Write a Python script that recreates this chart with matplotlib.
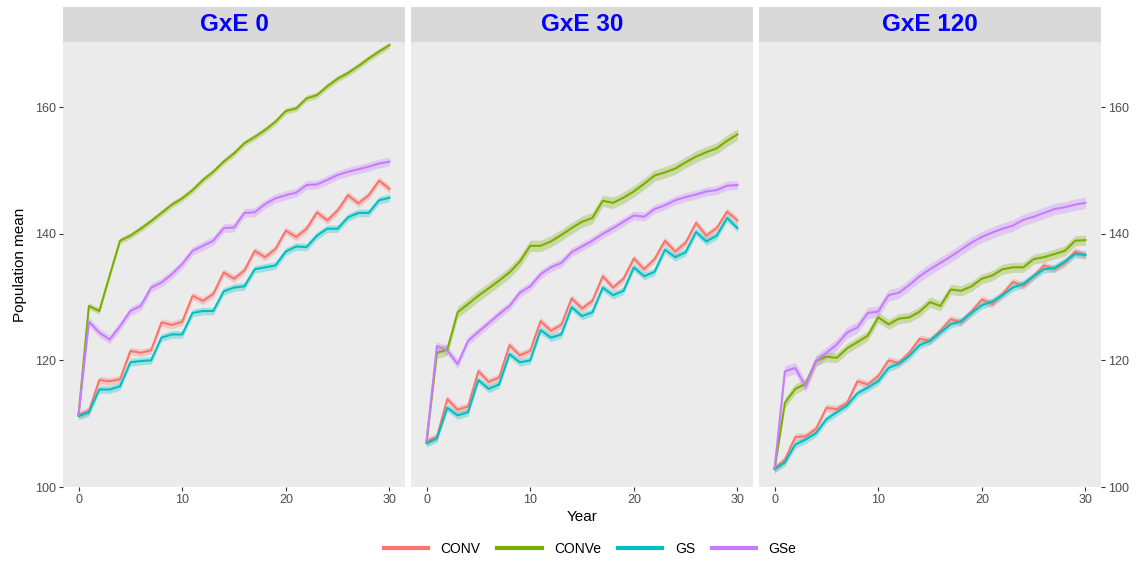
import matplotlib
matplotlib.use("Agg")
import matplotlib.pyplot as plt
import numpy as np
from matplotlib.lines import Line2D

plt.rcParams['font.family'] = ['Liberation Sans', 'DejaVu Sans']

years = list(range(31))
panels = ["GxE 0", "GxE 30", "GxE 120"]
series = ["CONV", "CONVe", "GS", "GSe"]
colors = {"CONV": "#F8766D", "CONVe": "#7CAE00", "GS": "#00BFC4", "GSe": "#C77CFF"}

# ---- GxE 0 ----
conv_0 = [111.4, 112.0, 116.9, 116.7, 117.0, 121.5, 121.2, 121.6, 126.0, 125.6, 126.1,
          130.2, 129.4, 130.5, 133.9, 132.9, 134.2, 137.3, 136.3, 137.6, 140.5,
          139.5, 140.8, 143.4, 142.1, 143.7, 146.1, 144.8, 146.1, 148.4, 147.1]
conve_0 = [111.4, 128.6, 127.8, 133.4, 138.9, 139.7, 140.8, 142.0, 143.3, 144.6, 145.6,
           146.9, 148.5, 149.8, 151.4, 152.7, 154.3, 155.3, 156.4, 157.7, 159.4,
           159.8, 161.4, 161.9, 163.3, 164.5, 165.4, 166.5, 167.7, 168.8, 169.8]
gs_0 = [111.2, 111.8, 115.4, 115.4, 115.9, 119.7, 119.9, 120.0, 123.6, 124.1, 124.1,
        127.5, 127.8, 127.8, 130.9, 131.5, 131.7, 134.4, 134.7, 135.0, 137.2,
        138.0, 137.9, 139.7, 140.8, 140.8, 142.6, 143.3, 143.3, 145.3, 145.7]
gse_0 = [111.4, 126.1, 124.4, 123.3, 125.4, 127.8, 128.6, 131.5, 132.3, 133.6, 135.2,
         137.3, 138.1, 138.9, 140.9, 141.0, 143.3, 143.4, 144.7, 145.6, 146.1,
         146.5, 147.7, 147.8, 148.5, 149.3, 149.8, 150.2, 150.6, 151.1, 151.4]

# ---- GxE 30 ----
conv_30 = [107.2, 107.9, 113.9, 112.2, 112.7, 118.3, 116.6, 117.3, 122.4, 120.8, 121.5,
           126.2, 124.7, 125.6, 129.8, 128.2, 129.4, 133.3, 131.5, 132.9, 136.1,
           134.4, 136.0, 138.9, 137.2, 138.6, 141.7, 139.7, 140.9, 143.5, 142.1]
conve_30 = [107.2, 121.2, 121.7, 127.6, 128.9, 130.2, 131.4, 132.6, 133.9, 135.6, 138.1,
            138.1, 138.8, 139.8, 140.9, 141.9, 142.5, 145.2, 144.9, 145.7, 146.7,
            147.9, 149.2, 149.7, 150.3, 151.3, 152.2, 152.9, 153.5, 154.7, 155.7]
gs_30 = [106.9, 107.7, 112.5, 111.3, 111.8, 116.9, 115.5, 116.2, 121.0, 119.7, 120.0,
         124.8, 123.6, 124.1, 128.4, 127.0, 127.6, 131.5, 130.3, 131.0, 134.7,
         133.3, 134.0, 137.5, 136.3, 137.1, 140.3, 138.8, 139.7, 142.5, 140.9]
gse_30 = [107.2, 122.3, 121.6, 119.4, 123.1, 124.5, 125.9, 127.3, 128.6, 130.7, 131.7,
          133.6, 134.7, 135.4, 137.1, 138.0, 138.9, 140.0, 140.9, 141.9, 142.9,
          142.7, 143.9, 144.5, 145.3, 145.8, 146.2, 146.7, 146.9, 147.6, 147.7]

# ---- GxE 120 ----
conv_120 = [102.9, 104.3, 107.9, 108.0, 109.2, 112.5, 112.3, 113.3, 116.7, 116.2, 117.5,
            120.0, 119.6, 121.2, 123.4, 123.1, 124.7, 126.5, 126.0, 127.7, 129.6,
            128.9, 130.5, 132.4, 131.8, 133.3, 135.0, 134.4, 135.4, 137.2, 136.6]
conve_120 = [102.9, 113.3, 115.5, 116.3, 119.9, 120.6, 120.4, 121.9, 122.9, 123.9, 126.8,
             125.7, 126.6, 126.8, 127.7, 129.2, 128.6, 131.2, 131.0, 131.7, 132.9,
             133.4, 134.4, 134.7, 134.7, 136.0, 136.3, 136.8, 137.3, 138.9, 139.0]
gs_120 = [102.8, 103.9, 106.7, 107.5, 108.5, 110.7, 111.8, 112.9, 114.8, 115.7, 116.7,
          118.8, 119.5, 120.7, 122.4, 123.1, 124.4, 125.7, 126.2, 127.5, 128.7,
          129.3, 130.3, 131.5, 132.1, 133.3, 134.4, 134.6, 135.6, 136.8, 136.7]
gse_120 = [102.9, 118.3, 118.8, 115.9, 119.9, 121.2, 122.5, 124.4, 125.2, 127.5, 127.7,
           130.3, 130.7, 131.9, 133.3, 134.4, 135.4, 136.4, 137.5, 138.6, 139.5,
           140.2, 140.8, 141.3, 142.2, 142.7, 143.3, 143.9, 144.2, 144.6, 144.9]

# ribbon half-widths (confidence band) per panel and series
band_0 = {"CONV": 0.6, "CONVe": 0.5, "GS": 0.6, "GSe": 0.7}
band_30 = {"CONV": 0.6, "CONVe": 0.9, "GS": 0.6, "GSe": 0.7}
band_120 = {"CONV": 0.6, "CONVe": 0.8, "GS": 0.6, "GSe": 0.9}

data = {
    "GxE 0": {"CONV": conv_0, "CONVe": conve_0, "GS": gs_0, "GSe": gse_0},
    "GxE 30": {"CONV": conv_30, "CONVe": conve_30, "GS": gs_30, "GSe": gse_30},
    "GxE 120": {"CONV": conv_120, "CONVe": conve_120, "GS": gs_120, "GSe": gse_120},
}
bands = {"GxE 0": band_0, "GxE 30": band_30, "GxE 120": band_120}

yticks = [100, 120, 140, 160]
xticks = [0, 10, 20, 30]

W, H = 1139, 562
fig = plt.figure(figsize=(W / 100, H / 100), dpi=100)

panel_left = [63, 411, 759]
pw = 342
top_px, bot_px = 42, 487
strip_top = 6.5

for i, p in enumerate(panels):
    l = panel_left[i] / W
    b = 1 - bot_px / H
    h = (bot_px - top_px) / H
    ax = fig.add_axes([l, b, pw / W, h])
    ax.set_facecolor("#EBEBEB")
    for s in series:
        y = np.array(data[p][s])
        hw = bands[p][s]
        ax.fill_between(years, y - hw, y + hw, color=colors[s], alpha=0.3, lw=0)
        ax.plot(years, y, color=colors[s], lw=1.5, solid_joinstyle='round')
    ax.set_xlim(-1.5, 31.5)
    ax.set_ylim(100, 170.3)
    ax.set_xticks(xticks)
    ax.set_yticks(yticks)
    for sp in ax.spines.values():
        sp.set_visible(False)
    ax.tick_params(axis='both', colors='#333333', labelcolor='#4D4D4D',
                   labelsize=9, length=3, width=0.8, pad=2)
    if i == 0:
        ax.tick_params(axis='y', left=True, labelleft=True, right=False, labelright=False)
        ax.set_ylabel("Population mean", fontsize=11, color='black', labelpad=6)
    elif i == 2:
        ax.tick_params(axis='y', left=False, labelleft=False, right=True, labelright=True)
    else:
        ax.tick_params(axis='y', left=False, labelleft=False)
    if i == 1:
        ax.set_xlabel("Year", fontsize=11, color='black', labelpad=3)
    # strip
    sax = fig.add_axes([l, 1 - top_px / H, pw / W, (top_px - strip_top) / H])
    sax.set_facecolor("#D9D9D9")
    sax.set_xticks([])
    sax.set_yticks([])
    for sp in sax.spines.values():
        sp.set_visible(False)
    sax.text(0.5, 0.5, p, ha='center', va='center', color='#0000FF',
             fontsize=17.5, fontweight='bold', transform=sax.transAxes)

handles = [Line2D([0], [0], color=colors[s], lw=3) for s in series]
fig.legend(handles, series, loc='center', bbox_to_anchor=(0.518, 1 - 549 / H), ncol=4,
           frameon=False, fontsize=10, handlelength=3.2, columnspacing=1.2,
           handletextpad=0.9)

fig.savefig("out.png", dpi=100, facecolor='white')
